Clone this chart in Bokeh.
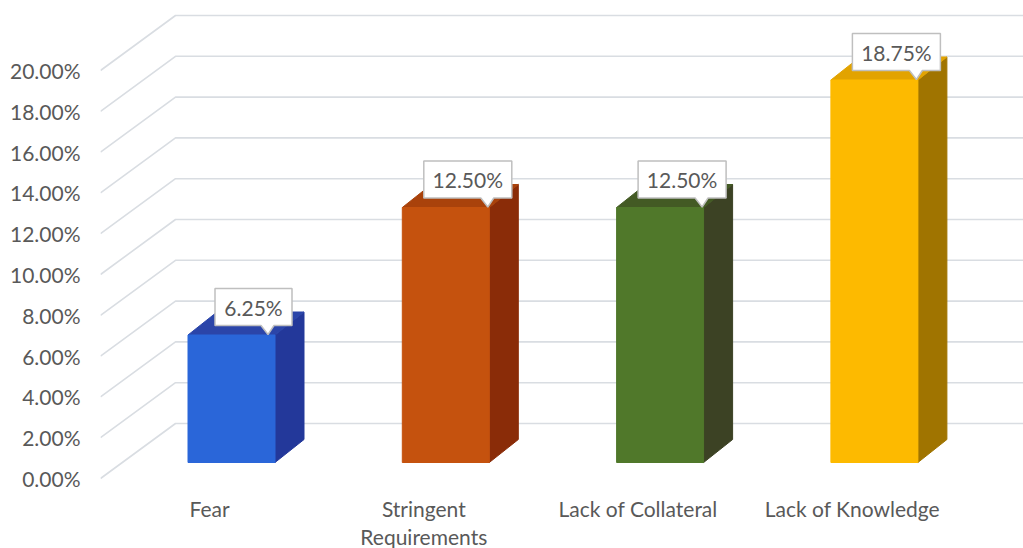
from bokeh.plotting import figure
from bokeh.models import Range1d, FixedTicker, NumeralTickFormatter
from bokeh.embed import file_html
from bokeh.resources import INLINE
from bokeh.core.properties import value

# ---- data -------------------------------------------------------------
categories = ["Fear", "Stringent\nRequirements", "Lack of Collateral", "Lack of Knowledge"]
shares = [0.0625, 0.125, 0.125, 0.1875]
y_ticks = [0.00, 0.02, 0.04, 0.06, 0.08, 0.10, 0.12, 0.14, 0.16, 0.18, 0.20]

front_colors = ["#2A66D9", "#C5520E", "#50782A", "#FDBA00"]
top_colors = ["#2B45A9", "#A9420B", "#435A24", "#E2A300"]
side_colors = ["#23389A", "#8A2C08", "#3C4224", "#A07400"]

# ---- layout geometry (pixel based oblique projection) ----------------
W, H = 1023, 548
LEFT = 100          # left edge of the plotting frame
X_PX = 214.3        # pixels per category step
Y_PX = 2040.0       # pixels per 100 %
X0_PX = 231.0       # pixel x of the first category centre
Y0_PX = 478.0       # pixel y of 0 % on the front edge of the floor

x_start = (LEFT - X0_PX) / X_PX
x_end = (W - X0_PX) / X_PX
y_end = Y0_PX / Y_PX
y_start = (Y0_PX - H) / Y_PX


def dx(px):
    return px / X_PX


def dy(px):
    return px / Y_PX


TEXT = "#595959"
FONT = "Lato"
FONT_SIZE = "21px"

p = figure(width=W, height=H, output_backend="svg", toolbar_location=None,
           x_range=Range1d(x_start, x_end), y_range=Range1d(y_start, y_end),
           x_axis_location=None, min_border_left=LEFT, min_border_right=0,
           min_border_top=0, min_border_bottom=0)
p.outline_line_color = None
p.xgrid.visible = False
p.ygrid.visible = False
p.background_fill_color = "white"
p.border_fill_color = "white"

ax = p.yaxis[0]
ax.ticker = FixedTicker(ticks=y_ticks)
ax.formatter = NumeralTickFormatter(format="0.00%")
ax.axis_line_color = None
ax.major_tick_line_color = None
ax.minor_tick_line_color = None
ax.major_tick_in = 0
ax.major_tick_out = 0
ax.minor_tick_in = 0
ax.minor_tick_out = 0
ax.major_label_standoff = 20
ax.major_label_text_font = FONT
ax.major_label_text_font_size = FONT_SIZE
ax.major_label_text_color = TEXT

# ---- gridlines: side wall slant + back wall ----------------------------
wall_dx, wall_dy = dx(75), dy(55)
gx, gy = [], []
for t in y_ticks:
    gx.append([x_start, x_start + wall_dx, x_end])
    gy.append([t, t + wall_dy, t + wall_dy])
p.multi_line(gx, gy, line_color="#D9DDE2", line_width=1.6)

# ---- 3D bars -----------------------------------------------------------
base = dy(16)
hw = dx(43.5)
ddx, ddy = dx(29), dy(23)

idx = list(range(len(shares)))
lefts = [i - hw for i in idx]
rights = [i + hw for i in idx]
tops = [base + v for v in shares]

side_xs = [[r, r + ddx, r + ddx, r] for r in rights]
side_ys = [[base, base + ddy, t + ddy, t] for t in tops]
top_xs = [[l, r, r + ddx, l + ddx] for l, r in zip(lefts, rights)]
top_ys = [[t, t, t + ddy, t + ddy] for t in tops]

p.patches(side_xs, side_ys, fill_color=side_colors, line_color=side_colors, line_width=1)
p.patches(top_xs, top_ys, fill_color=top_colors, line_color=top_colors, line_width=1)
p.quad(left=lefts, right=rights, bottom=base, top=tops,
       fill_color=front_colors, line_color=front_colors, line_width=1)

# ---- value callouts -----------------------------------------------------
labels = [f"{v * 100:.2f}%" for v in shares]
cxs = [i + dx(22) for i in idx]
cys = [t + dy(28) for t in tops]
box_xs, box_ys = [], []
for cx, cy, txt in zip(cxs, cys, labels):
    w = dx(22 + 11 * len(txt)) / 2
    h = dy(37) / 2
    l, r, b, tp = cx - w, cx + w, cy - h, cy + h
    tip = r - dx(24)
    box_xs.append([l, r, r, tip + dx(6), tip, tip - dx(7), l])
    box_ys.append([tp, tp, b, b, b - dy(9), b, b])
p.patches(box_xs, box_ys, fill_color="white", line_color="#BFBFBF", line_width=1.5)
p.text(x=cxs, y=cys, text=labels, text_align="center", text_baseline="middle",
       text_font=value(FONT), text_font_size=FONT_SIZE, text_color=TEXT)

# ---- category labels ---------------------------------------------------
p.text(x=[i - dx(22) for i in idx], y=[-dy(17)] * len(idx), text=categories,
       text_align="center", text_baseline="top", text_line_height=1.15,
       text_font=value(FONT), text_font_size=FONT_SIZE, text_color=TEXT)

open("out.html", "w").write(file_html(p, INLINE))
